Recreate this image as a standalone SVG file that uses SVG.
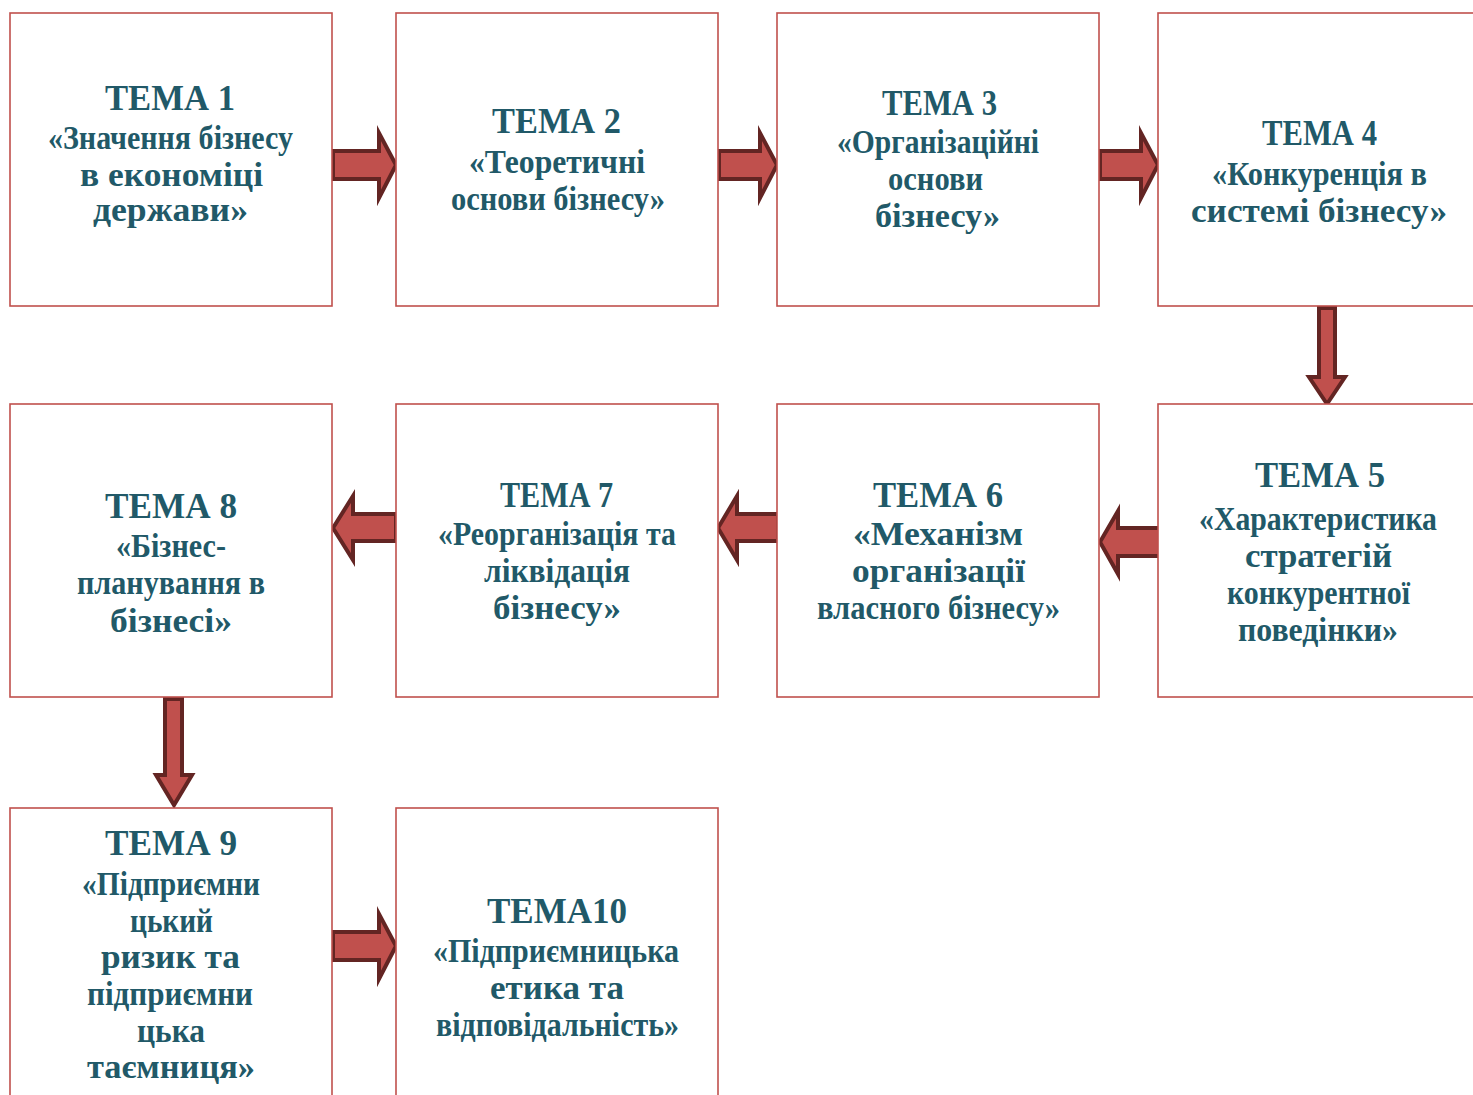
<svg xmlns="http://www.w3.org/2000/svg" width="1473" height="1095" viewBox="0 0 1473 1095">
<style>
.box{fill:#fff;stroke:#C0504D;stroke-width:1.6}
.arr{fill:#C0504D;stroke:#632523;stroke-width:4;stroke-linejoin:miter;stroke-miterlimit:10}
text{font-family:"Liberation Serif","Times New Roman",serif;font-weight:bold;fill:#215968;font-size:33px}
.t{font-size:35px}
</style>
<rect width="1473" height="1095" fill="#fff"/>
<g id="connectors">
<polygon class="arr" points="333,151 379,151 379,133 396,165 379,198 379,179 333,179"/>
<polygon class="arr" points="719,151 760,151 760,133 777,165 760,198 760,179 719,179"/>
<polygon class="arr" points="1100,151 1141,151 1141,133 1158,165 1141,198 1141,179 1100,179"/>
<polygon class="arr" points="1319,308 1335,308 1335,377 1345,377 1327,404 1309,377 1319,377"/>
<polygon class="arr" points="1160,528 1118,528 1118,511 1100,542 1118,574 1118,556 1160,556"/>
<polygon class="arr" points="778,514 737,514 737,496 718,528 737,560 737,541 778,541"/>
<polygon class="arr" points="396,514 353,514 353,496 333,528 353,560 353,541 396,541"/>
<polygon class="arr" points="165,699 182,699 182,775 192,775 174,805 156,775 165,775"/>
<polygon class="arr" points="333,932 379,932 379,914 396,946 379,979 379,960 333,960"/>
</g>
<g id="node1">
<rect class="box" x="10" y="13" width="322" height="293"/>
<text class="t" x="105" y="110" textLength="130" lengthAdjust="spacingAndGlyphs">ТЕМА 1</text>
<text x="48" y="149" textLength="245" lengthAdjust="spacingAndGlyphs">«Значення бізнесу</text>
<text x="80" y="186" textLength="183" lengthAdjust="spacingAndGlyphs">в економіці</text>
<text x="93" y="221" textLength="155" lengthAdjust="spacingAndGlyphs">держави»</text>
</g>
<g id="node2">
<rect class="box" x="396" y="13" width="322" height="293"/>
<text class="t" x="492" y="133" textLength="129" lengthAdjust="spacingAndGlyphs">ТЕМА 2</text>
<text x="469" y="173" textLength="176" lengthAdjust="spacingAndGlyphs">«Теоретичні</text>
<text x="451" y="210" textLength="214" lengthAdjust="spacingAndGlyphs">основи бізнесу»</text>
</g>
<g id="node3">
<rect class="box" x="777" y="13" width="322" height="293"/>
<text class="t" x="882" y="115" textLength="115" lengthAdjust="spacingAndGlyphs">ТЕМА 3</text>
<text x="837" y="153" textLength="202" lengthAdjust="spacingAndGlyphs">«Організаційні</text>
<text x="888" y="190" textLength="95" lengthAdjust="spacingAndGlyphs">основи</text>
<text x="875" y="227" textLength="125" lengthAdjust="spacingAndGlyphs">бізнесу»</text>
</g>
<g id="node4">
<rect class="box" x="1158" y="13" width="322" height="293"/>
<text class="t" x="1262" y="145" textLength="115" lengthAdjust="spacingAndGlyphs">ТЕМА 4</text>
<text x="1212" y="185" textLength="215" lengthAdjust="spacingAndGlyphs">«Конкуренція в</text>
<text x="1191" y="222" textLength="256" lengthAdjust="spacingAndGlyphs">системі бізнесу»</text>
</g>
<g id="node5">
<rect class="box" x="1158" y="404" width="322" height="293"/>
<text class="t" x="1255" y="487" textLength="130" lengthAdjust="spacingAndGlyphs">ТЕМА 5</text>
<text x="1199" y="530" textLength="238" lengthAdjust="spacingAndGlyphs">«Характеристика</text>
<text x="1245" y="567" textLength="147" lengthAdjust="spacingAndGlyphs">стратегій</text>
<text x="1227" y="604" textLength="183" lengthAdjust="spacingAndGlyphs">конкурентної</text>
<text x="1238" y="641" textLength="160" lengthAdjust="spacingAndGlyphs">поведінки»</text>
</g>
<g id="node6">
<rect class="box" x="777" y="404" width="322" height="293"/>
<text class="t" x="873" y="507" textLength="130" lengthAdjust="spacingAndGlyphs">ТЕМА 6</text>
<text x="853" y="545" textLength="170" lengthAdjust="spacingAndGlyphs">«Механізм</text>
<text x="852" y="582" textLength="173" lengthAdjust="spacingAndGlyphs">організації</text>
<text x="817" y="619" textLength="243" lengthAdjust="spacingAndGlyphs">власного бізнесу»</text>
</g>
<g id="node7">
<rect class="box" x="396" y="404" width="322" height="293"/>
<text class="t" x="500" y="507" textLength="113" lengthAdjust="spacingAndGlyphs">ТЕМА 7</text>
<text x="438" y="545" textLength="238" lengthAdjust="spacingAndGlyphs">«Реорганізація та</text>
<text x="484" y="582" textLength="146" lengthAdjust="spacingAndGlyphs">ліквідація</text>
<text x="493" y="619" textLength="128" lengthAdjust="spacingAndGlyphs">бізнесу»</text>
</g>
<g id="node8">
<rect class="box" x="10" y="404" width="322" height="293"/>
<text class="t" x="105" y="518" textLength="132" lengthAdjust="spacingAndGlyphs">ТЕМА 8</text>
<text x="116" y="557" textLength="110" lengthAdjust="spacingAndGlyphs">«Бізнес-</text>
<text x="77" y="594" textLength="188" lengthAdjust="spacingAndGlyphs">планування в</text>
<text x="110" y="632" textLength="122" lengthAdjust="spacingAndGlyphs">бізнесі»</text>
</g>
<g id="node9">
<rect class="box" x="10" y="808" width="322" height="293"/>
<text class="t" x="105" y="855" textLength="132" lengthAdjust="spacingAndGlyphs">ТЕМА 9</text>
<text x="82" y="895" textLength="178" lengthAdjust="spacingAndGlyphs">«Підприємни</text>
<text x="130" y="932" textLength="83" lengthAdjust="spacingAndGlyphs">цький</text>
<text x="101" y="968" textLength="139" lengthAdjust="spacingAndGlyphs">ризик та</text>
<text x="87" y="1005" textLength="166" lengthAdjust="spacingAndGlyphs">підприємни</text>
<text x="137" y="1042" textLength="68" lengthAdjust="spacingAndGlyphs">цька</text>
<text x="87" y="1078" textLength="168" lengthAdjust="spacingAndGlyphs">таємниця»</text>
</g>
<g id="node10">
<rect class="box" x="396" y="808" width="322" height="293"/>
<text class="t" x="487" y="923" textLength="140" lengthAdjust="spacingAndGlyphs">ТЕМА10</text>
<text x="433" y="962" textLength="246" lengthAdjust="spacingAndGlyphs">«Підприємницька</text>
<text x="490" y="999" textLength="134" lengthAdjust="spacingAndGlyphs">етика та</text>
<text x="436" y="1036" textLength="243" lengthAdjust="spacingAndGlyphs">відповідальність»</text>
</g>
</svg>
